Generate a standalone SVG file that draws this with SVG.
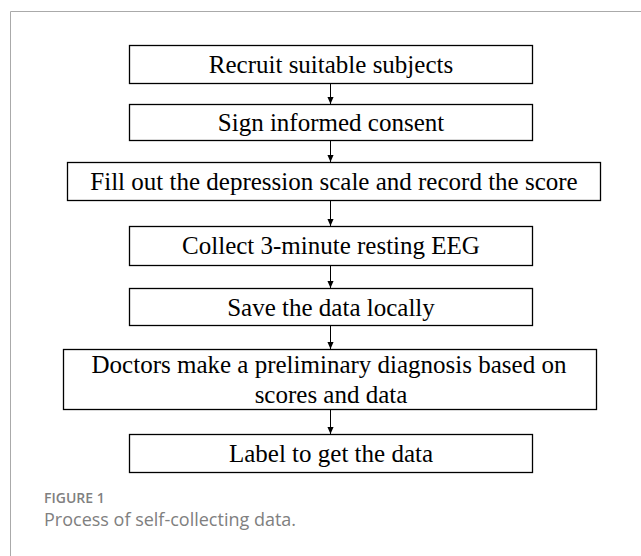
<svg xmlns="http://www.w3.org/2000/svg" width="641" height="556" viewBox="0 0 641 556">
<style>
.box{fill:#fff;stroke:#000;stroke-width:1.3}
.t{font-family:"Liberation Serif","Times New Roman",serif;font-size:25px;fill:#000;text-anchor:middle}
.c{stroke:#000;stroke-width:1;fill:none}
.cap1{font-family:"Open Sans",sans-serif;font-size:14px;fill:#808080;font-weight:600}
.cap2{font-family:"Open Sans",sans-serif;font-size:18px;fill:#808080}
</style>
<defs>
<marker id="ah" markerWidth="7" markerHeight="8" refX="8" refY="3.5" orient="auto" markerUnits="userSpaceOnUse" viewBox="0 0 8 7">
<path d="M0,0 L8,3.5 L0,7 z" fill="#000"/>
</marker>
</defs>
<rect x="0" y="0" width="641" height="556" fill="#fff"/>
<path d="M10.5,556 V11.5 H641" fill="none" stroke="#aaa" stroke-width="1"/>
<g id="connectors">
<line class="c" x1="330.5" y1="83" x2="330.5" y2="104" marker-end="url(#ah)"/>
<line class="c" x1="330.5" y1="140" x2="330.5" y2="162" marker-end="url(#ah)"/>
<line class="c" x1="330.5" y1="200" x2="330.5" y2="226" marker-end="url(#ah)"/>
<line class="c" x1="330.5" y1="265" x2="330.5" y2="288" marker-end="url(#ah)"/>
<line class="c" x1="330.5" y1="325" x2="330.5" y2="349" marker-end="url(#ah)"/>
<line class="c" x1="330.5" y1="409" x2="330.5" y2="434" marker-end="url(#ah)"/>
</g>
<g id="n1"><rect class="box" x="129.5" y="45.5" width="403" height="38"/><text class="t" x="331" y="73">Recruit suitable subjects</text></g>
<g id="n2"><rect class="box" x="129.5" y="104.5" width="403" height="36"/><text class="t" x="331" y="131">Sign informed consent</text></g>
<g id="n3"><rect class="box" x="67.5" y="162.5" width="533" height="38"/><text class="t" x="334" y="190">Fill out the depression scale and record the score</text></g>
<g id="n4"><rect class="box" x="129.5" y="226.5" width="403" height="39"/><text class="t" x="331" y="254">Collect 3-minute resting EEG</text></g>
<g id="n5"><rect class="box" x="129.5" y="288.5" width="403" height="37"/><text class="t" x="331" y="316">Save the data locally</text></g>
<g id="n6"><rect class="box" x="63.5" y="349.5" width="533" height="60"/><text class="t" x="329" y="373">Doctors make a preliminary diagnosis based on</text><text class="t" x="331" y="403">scores and data</text></g>
<g id="n7"><rect class="box" x="129.5" y="434.5" width="403" height="38"/><text class="t" x="331" y="462">Label to get the data</text></g>
<text class="cap1" x="44" y="503">FIGURE 1</text>
<text class="cap2" x="44" y="526">Process of self-collecting data.</text>
</svg>
